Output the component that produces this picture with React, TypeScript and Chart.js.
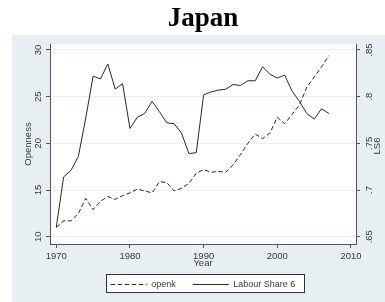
import React, { useEffect, useRef } from 'react';
import { Chart, registerables } from 'chart.js';

Chart.register(...registerables);

const years = [
  1970, 1971, 1972, 1973, 1974, 1975, 1976, 1977, 1978, 1979,
  1980, 1981, 1982, 1983, 1984, 1985, 1986, 1987, 1988, 1989,
  1990, 1991, 1992, 1993, 1994, 1995, 1996, 1997, 1998, 1999,
  2000, 2001, 2002, 2003, 2004, 2005, 2006, 2007,
];

const openk = [
  11.0, 11.7, 11.7, 12.5, 14.1, 12.9, 13.8, 14.3, 14.0, 14.4,
  14.7, 15.1, 14.9, 14.7, 15.9, 15.8, 14.9, 15.2, 15.7, 16.8,
  17.2, 16.9, 17.0, 16.9, 17.7, 18.8, 20.0, 21.0, 20.5, 21.1,
  22.8, 22.1, 23.1, 24.1, 26.0, 27.1, 28.2, 29.4,
];

const ls6 = [
  0.660, 0.714, 0.721, 0.736, 0.777, 0.822, 0.819, 0.835, 0.808, 0.814,
  0.766, 0.778, 0.782, 0.795, 0.784, 0.772, 0.771, 0.761, 0.739, 0.740,
  0.802, 0.805, 0.807, 0.808, 0.813, 0.812, 0.817, 0.817, 0.832, 0.824,
  0.820, 0.823, 0.806, 0.795, 0.782, 0.776, 0.787, 0.782,
];

const xTicks = [1970, 1980, 1990, 2000, 2010];
const leftTicks = [10, 15, 20, 25, 30];
const leftTickLabels = ['10', '15', '20', '25', '30'];
const rightTicks = [0.65, 0.7, 0.75, 0.8, 0.85];
const rightTickLabels = ['.65', '.7', '.75', '.8', '.85'];

const SANS = '"Liberation Sans", Arial, Helvetica, sans-serif';
const PANEL = '#e8eff2';
const INK = '#3a3a3a';
const AXIS = '#555555';

const decorPlugin = {
  id: 'decor',
  beforeDraw(chart: any) {
    const { ctx, chartArea: a } = chart;
    ctx.save();
    ctx.fillStyle = PANEL;
    ctx.fillRect(12, 35, chart.width - 12, chart.height - 35);
    ctx.fillStyle = '#ffffff';
    ctx.fillRect(a.left, a.top, a.right - a.left, a.bottom - a.top);
    const hb = chart.legend && chart.legend.legendHitBoxes;
    if (hb && hb.length) {
      const first = hb[0];
      const last = hb[hb.length - 1];
      const l = Math.round(first.left - 5) + 0.5;
      const r = Math.round(last.left + last.width + 9) + 0.5;
      const t = Math.round(first.top - 6) + 0.5;
      const b = Math.round(first.top + 12) + 0.5;
      ctx.fillStyle = '#ffffff';
      ctx.fillRect(l, t, r - l, b - t);
      ctx.strokeStyle = '#333333';
      ctx.lineWidth = 1;
      ctx.strokeRect(l, t, r - l, b - t);
    }
    ctx.restore();
  },
  afterDraw(chart: any) {
    const { ctx, chartArea: a, scales } = chart;
    const drawRot = (text: string, x: number, y: number) => {
      ctx.save();
      ctx.translate(x, y);
      ctx.rotate(-Math.PI / 2);
      ctx.fillText(text, 0, 0);
      ctx.restore();
    };
    ctx.save();
    ctx.fillStyle = INK;
    ctx.textAlign = 'center';
    ctx.textBaseline = 'middle';
    ctx.font = `9.5px ${SANS}`;
    leftTicks.forEach((v, i) => drawRot(leftTickLabels[i], 38.5, scales.y.getPixelForValue(v)));
    rightTicks.forEach((v, i) => drawRot(rightTickLabels[i], 369.5, scales.y1.getPixelForValue(v)));
    const midY = (a.top + a.bottom) / 2;
    drawRot('Openness', 28, midY);
    drawRot('LS6', 377.5, midY + 2);
    ctx.restore();
  },
};

export default function App() {
  const ref = useRef<HTMLCanvasElement | null>(null);

  useEffect(() => {
    if (!ref.current) return;
    const chart = new Chart(ref.current, {
      type: 'line',
      data: {
        datasets: [
          {
            label: 'openk',
            data: years.map((x, i) => ({ x, y: openk[i] })),
            borderColor: '#2a2a2a',
            backgroundColor: '#2a2a2a',
            borderWidth: 1,
            borderDash: [4.5, 2.5],
            pointRadius: 0,
            tension: 0,
            yAxisID: 'y',
          },
          {
            label: 'Labour Share 6',
            data: years.map((x, i) => ({ x, y: ls6[i] })),
            borderColor: '#2a2a2a',
            backgroundColor: '#2a2a2a',
            borderWidth: 1,
            pointRadius: 0,
            tension: 0,
            yAxisID: 'y1',
          },
        ],
      },
      options: {
        responsive: false,
        animation: false,
        layout: { padding: { left: 0, right: 0, top: 0, bottom: 3 } },
        plugins: {
          tooltip: { enabled: false },
          title: {
            display: true,
            text: 'Japan',
            color: '#000000',
            fullSize: false,
            font: { family: '"Liberation Serif", "Times New Roman", serif', size: 27, weight: 'bold', lineHeight: 1.2 },
            padding: { top: 3, bottom: 8.6 },
          },
          legend: {
            display: true,
            position: 'bottom',
            fullSize: false,
            labels: {
              usePointStyle: true,
              pointStyle: 'line',
              pointStyleWidth: 36,
              padding: 17,
              color: INK,
              font: { family: SANS, size: 9 },
              generateLabels: (c: any) => {
                const items = (Chart.defaults as any).plugins.legend.labels.generateLabels(c);
                return items.map((it: any) => {
                  const ds: any = c.data.datasets[it.datasetIndex];
                  return {
                    ...it,
                    pointStyle: 'line',
                    lineDash: ds.borderDash || [],
                    lineWidth: ds.borderWidth,
                    strokeStyle: ds.borderColor,
                    fillStyle: ds.borderColor,
                  };
                });
              },
            },
          },
        },
        scales: {
          x: {
            type: 'linear',
            position: 'bottom',
            min: 1969.15,
            max: 2010.68,
            afterBuildTicks: (s: any) => {
              s.ticks = xTicks.map((v) => ({ value: v }));
            },
            afterFit: (s: any) => {
              s.height = 19;
            },
            ticks: {
              color: INK,
              font: { family: SANS, size: 9.5 },
              padding: 2.6,
              maxRotation: 0,
              autoSkip: false,
              callback: (v: any) => String(v),
            },
            grid: { drawOnChartArea: false, tickColor: AXIS, tickLength: 4 },
            border: { display: true, color: AXIS, width: 1 },
            title: {
              display: true,
              text: 'Year',
              color: INK,
              font: { family: SANS, size: 9.5 },
              padding: { top: 0, bottom: -6.2 },
            },
          },
          y: {
            type: 'linear',
            position: 'left',
            min: 9.22,
            max: 30.64,
            afterBuildTicks: (s: any) => {
              s.ticks = leftTicks.map((v) => ({ value: v }));
            },
            afterFit: (s: any) => {
              s.width = 50;
            },
            ticks: { display: false },
            grid: { color: '#e9f0f3', tickColor: AXIS, tickLength: 4 },
            border: { display: true, color: AXIS, width: 1 },
          },
          y1: {
            type: 'linear',
            position: 'right',
            min: 0.6422,
            max: 0.8564,
            afterBuildTicks: (s: any) => {
              s.ticks = rightTicks.map((v) => ({ value: v }));
            },
            afterFit: (s: any) => {
              s.width = 29;
            },
            ticks: { display: false },
            grid: { drawOnChartArea: false, tickColor: AXIS, tickLength: 4 },
            border: { display: true, color: AXIS, width: 1 },
          },
        },
      },
      plugins: [decorPlugin],
    } as any);
    return () => chart.destroy();
  }, []);

  return (
    <div style={{ position: 'absolute', left: 0, top: 0, width: 385, height: 302 }}>
      <canvas ref={ref} width={385} height={302} style={{ display: 'block' }} />
    </div>
  );
}
